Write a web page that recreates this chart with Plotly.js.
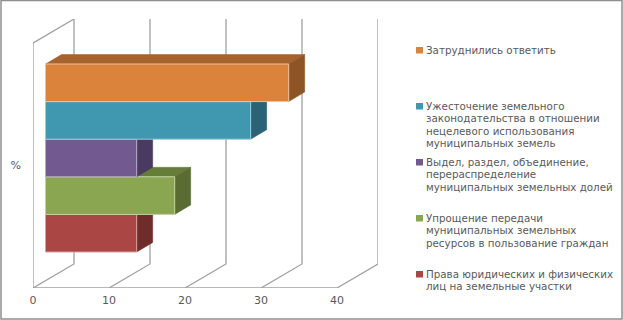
<!DOCTYPE html>
<html>
<head>
<meta charset="utf-8">
<script src="https://cdn.plot.ly/plotly-3.0.1.min.js"></script>
<style>html,body{margin:0;padding:0;background:#fff}#chart{width:623px;height:320px}</style>
</head>
<body>
<div id="chart"></div>
<script>
// Data, bottom row first
var categories = [
  "Права юридических и физических лиц на земельные участки",
  "Упрощение передачи муниципальных земельных ресурсов в пользование граждан",
  "Выдел, раздел, объединение, перераспределение муниципальных земельных долей",
  "Ужесточение земельного законодательства в отношении нецелевого использования муниципальных земель",
  "Затруднились ответить"
];
var values = [12, 17, 12, 27, 32];
var tickValues = [0, 10, 20, 30, 40];
var axisLabel = "%";
var legendLines = [
  ["Затруднились ответить"],
  ["Ужесточение земельного", "законодательства в отношении", "нецелевого использования", "муниципальных земель"],
  ["Выдел, раздел, объединение,", "перераспределение", "муниципальных земельных долей"],
  ["Упрощение передачи", "муниципальных земельных", "ресурсов в пользование граждан"],
  ["Права юридических и физических", "лиц на земельные участки"]
];
var frontColors = ["#AA4643", "#8BA650", "#725A90", "#4097B0", "#DB833B"];
var topColors   = ["#8A3836", "#667D3A", "#5A4672", "#33788C", "#A6632C"];
var sideColors  = ["#6E2C2A", "#5A6C31", "#4A3960", "#2A6376", "#8D5525"];
var edgeColors  = ["#D5A3A1", "#C5D2A7", "#B8ACC7", "#9FCBD7", "#EDC19D"];
var legendColors = frontColors.slice().reverse();

// Scale of the pseudo-3D scene (pixels of the 623x320 page)
var W = 623, H = 320;
var pxX = 7.6, pxY = 37.6;
var x0px = 33, y0px = 288;
var wallDX = 41 / pxX, wallDY = 24 / pxY, wallH = 245 / pxY;
var barX = 12.5 / pxX, barY = 36 / pxY;
var depthX = 16 / pxX, depthY = 9.5 / pxY;
var gridColor = "#A0A0A0", textColor = "#595959";
var fontName = "DejaVu Sans";

var traces = [];
function line(xs, ys, color) {
  traces.push({type: "scatter", mode: "lines", x: xs, y: ys, hoverinfo: "skip", showlegend: false,
    cliponaxis: false, line: {color: color, width: 1.3}});
}
var gx = [], gy = [];
tickValues.forEach(function (v) {
  gx.push(v, v + wallDX, v + wallDX, null);
  gy.push(0, wallDY, wallDY + wallH, null);
});
gx.push(-4 / pxX, tickValues[tickValues.length - 1], null, -4 / pxX, 0, wallDX, null, 0, 0);
gy.push(0, 0, null, wallH, wallH, wallH + wallDY, null, 0, wallH);
line(gx, gy, gridColor);

function face(xs, ys, fill, edge, name, hover) {
  traces.push({type: "scatter", mode: "lines", x: xs, y: ys, fill: "toself", fillcolor: fill,
    line: {color: edge, width: edge === fill ? 0.5 : 1}, name: name, showlegend: false,
    hoverinfo: hover ? "name+text" : "skip", text: hover || "", cliponaxis: false});
}
values.forEach(function (v, i) {
  var l = barX, r = barX + v, b = barY + i, t = barY + i + 1;
  face([l, r, r + depthX, l + depthX, l], [t, t, t + depthY, t + depthY, t], topColors[i], topColors[i], categories[i]);
  face([r, r + depthX, r + depthX, r, r], [b, b + depthY, t + depthY, t, b], sideColors[i], sideColors[i], categories[i]);
  face([l, r, r, l, l], [b, b, t, t, b], frontColors[i], edgeColors[i], categories[i], String(v));
});

var annotations = [], shapes = [];
function px(x) { return x / W; }
function py(y) { return 1 - y / H; }
legendLines.forEach(function (lines, i) {
  var yc = 50 + i * 56;
  shapes.push({type: "rect", xref: "paper", yref: "paper", x0: px(416), x1: px(423), y0: py(yc - 3), y1: py(yc + 3.5),
    fillcolor: legendColors[i], line: {width: 0}});
  lines.forEach(function (s, k) {
    annotations.push({xref: "paper", yref: "paper", x: px(425), y: py(yc + k * 12.4), xanchor: "left", yanchor: "middle",
      showarrow: false, text: s, align: "left", borderpad: 0,
      font: {family: fontName, size: 10.3, color: textColor}});
  });
});
shapes.push({type: "rect", xref: "paper", yref: "paper", x0: px(1), x1: px(622), y0: py(319), y1: py(0.5),
  fillcolor: "rgba(0,0,0,0)", line: {color: "#8E8E8E", width: 1.5}});

var layout = {
  width: W, height: H,
  margin: {l: 0, r: 0, t: 0, b: 0},
  paper_bgcolor: "#fff", plot_bgcolor: "#fff",
  showlegend: false,
  font: {family: fontName, color: textColor, size: 11},
  xaxis: {domain: [px(x0px), px(378)], range: [0, 345 / pxX], tickmode: "array", tickvals: tickValues,
    ticktext: tickValues.map(String), showgrid: false, zeroline: false, showline: false, ticks: "", ticklabelstandoff: 4,
    tickfont: {family: fontName, size: 11, color: textColor}},
  yaxis: {domain: [py(y0px), py(19)], range: [0, (y0px - 19) / pxY], tickmode: "array", tickvals: [wallH / 2],
    ticktext: [axisLabel], showgrid: false, zeroline: false, showline: false, ticks: "", ticklabelstandoff: 11,
    tickfont: {family: fontName, size: 11, color: textColor}},
  annotations: annotations,
  shapes: shapes
};
Plotly.newPlot("chart", traces, layout, {displayModeBar: false, staticPlot: true});
</script>
</body>
</html>
